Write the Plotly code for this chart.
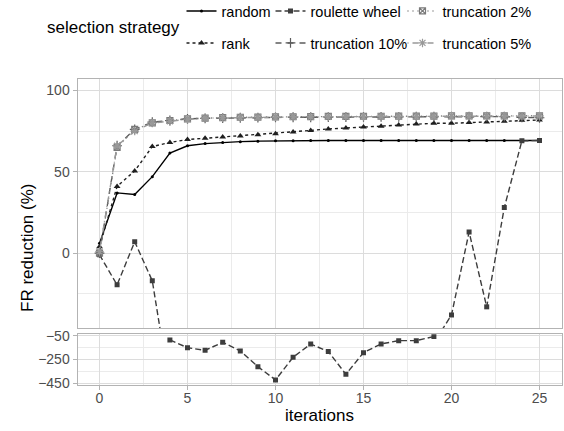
import plotly.graph_objects as go

W, H = 564, 431

iterations = list(range(26))
random_vals = [6, 37, 36, 47, 61.5, 66, 67.3, 68, 68.5, 68.8, 69, 69.1, 69.2, 69.2, 69.2, 69.2,
               69.2, 69.2, 69.2, 69.2, 69.2, 69.2, 69.2, 69.2, 69.2, 69.2]
rank_vals = [4, 41, 50.5, 65.5, 68, 69.8, 70.6, 71.4, 72, 72.8, 73.4, 74.5, 75.4, 76.3, 76.9,
             77.5, 78, 78.8, 79.4, 79.8, 79.8, 80.2, 80.6, 81, 81.6, 81.8]
roulette_vals = [-1, -19.5, 7, -17, -84, -150, -172, -104, -178, -311, -424, -231, -118, -183,
                 -376, -192, -118, -90, -90, -55, -38, 13, -33, 28, 69, 69.2]
trunc10_vals = [0, 66, 76, 80.5, 81.5, 82.5, 82.8, 83, 83.2, 83.3, 83.4, 83.5, 83.5, 83.6, 83.6,
                83.7, 83.7, 83.7, 83.8, 83.8, 83.8, 83.9, 83.9, 83.9, 83.4, 83.2]
trunc2_vals = [0, 65, 76, 80, 81.5, 82.5, 83, 83.3, 83.5, 83.6, 83.7, 83.8, 83.9, 84, 84, 84.1,
               84.1, 84.2, 84.2, 84.2, 84.3, 84.3, 84.3, 84.4, 84.4, 84.4]
trunc5_vals = [1, 66, 75, 80, 81, 82.3, 83, 83.2, 83.4, 83.5, 83.6, 83.7, 83.8, 83.8, 83.9, 83.9,
               84, 84, 84, 84.1, 84.1, 84.1, 84.2, 84.2, 84.2, 84.3]

series_names = ["random", "rank", "roulette wheel", "truncation 10%", "truncation 2%", "truncation 5%"]
series_values = [random_vals, rank_vals, roulette_vals, trunc10_vals, trunc2_vals, trunc5_vals]

x_ticks = [0, 5, 10, 15, 20, 25]
top_ticks = [0, 50, 100]
bottom_ticks = [-450, -250, -50]
BREAK = -46  # values below this are shown in the lower panel

styles = {
    "random": dict(color="#000000", dash="solid", symbol="circle", size=3, mlw=0),
    "rank": dict(color="#1f1f1f", dash="3px,3px", symbol="triangle-up", size=6, mlw=0),
    "roulette wheel": dict(color="#3d3d3d", dash="6px,3px", symbol="square", size=5, mlw=0),
    "truncation 10%": dict(color="#5c5c5c", dash="6px,6px", symbol="cross-thin-open", size=7, mlw=1.2),
    "truncation 2%": dict(color="#7a7a7a", dash="1px,4px", symbol="square-x-open", size=6, mlw=1.2),
    "truncation 5%": dict(color="#999999", dash="1px,4px,6px,4px", symbol="asterisk-open", size=7, mlw=1.2),
}

legend_pos = {
    "random": (181.5, 11),
    "rank": (181.5, 43),
    "roulette wheel": (270.5, 11),
    "truncation 10%": (270.5, 43),
    "truncation 2%": (402.5, 11),
    "truncation 5%": (402.5, 43),
}

FONT = "Liberation Sans, Arial, sans-serif"

fig = go.Figure()
legend_layouts = {}
for k, (name, vals) in enumerate(zip(series_names, series_values)):
    st = styles[name]
    lname = "legend" if k == 0 else f"legend{k + 1}"
    low_vals = [v if v < BREAK else None for v in vals]
    panels = [("top", vals)]
    if any(v is not None for v in low_vals):
        panels.append(("bottom", low_vals))
    for panel, yv in panels:
        fig.add_trace(go.Scatter(
            x=iterations, y=yv, mode="lines+markers", name=name,
            legendgroup=name, legend=lname, showlegend=(panel == "top"),
            line=dict(color=st["color"], width=1.4, dash=st["dash"]),
            marker=dict(symbol=st["symbol"], size=st["size"], color=st["color"],
                        line=dict(color=st["color"], width=st["mlw"])),
            xaxis="x2" if panel == "top" else "x",
            yaxis="y" if panel == "top" else "y2",
            connectgaps=False, hoverinfo="skip",
        ))
    px, py = legend_pos[name]
    legend_layouts[lname] = dict(
        x=px / W, y=1 - py / H, xanchor="left", yanchor="middle",
        orientation="h", bgcolor="rgba(0,0,0,0)", borderwidth=0,
        font=dict(family=FONT, size=14.5, color="#000000"), itemwidth=30,
        tracegroupgap=0,
    )

x_dom = [77.5 / W, 561.5 / W]
top_dom = [1 - 328 / H, 1 - 79 / H]
bot_dom = [1 - 385 / H, 1 - 334.3 / H]

grid_major = "#dcdcdc"
grid_minor = "#ebebeb"
border = "#b3b3b3"
tickfont = dict(family=FONT, size=14, color="#4d4d4d")

common_x = dict(range=[-1.25, 26.25], domain=x_dom, showgrid=True, gridcolor=grid_major,
                gridwidth=1, zeroline=False, showline=True, mirror=True, linecolor=border,
                linewidth=1, tickmode="array", tickvals=x_ticks,
                minor=dict(tickvals=[2.5, 7.5, 12.5, 17.5, 22.5], showgrid=True,
                           gridcolor=grid_minor, gridwidth=1, ticks=""),
                automargin=False)

fig.update_layout(
    width=W, height=H, margin=dict(l=0, r=0, t=0, b=0, autoexpand=False),
    paper_bgcolor="white", plot_bgcolor="white", template="none",
    font=dict(family=FONT, color="#000000"),
    xaxis=dict(**common_x, anchor="y2", ticks="outside", ticklen=4, tickcolor=border,
               tickfont=tickfont, showticklabels=True, ticklabelstandoff=-4),
    xaxis2=dict(**common_x, anchor="y", matches="x", ticks="", showticklabels=False),
    yaxis=dict(domain=top_dom, range=[-46, 107], anchor="x2", showgrid=True,
               gridcolor=grid_major, gridwidth=1, zeroline=False, showline=True, mirror=True,
               linecolor=border, linewidth=1, tickmode="array", tickvals=top_ticks,
               ticks="outside", ticklen=4, tickcolor=border, tickfont=tickfont,
               minor=dict(tickvals=[-25, 25, 75], showgrid=True, gridcolor=grid_minor,
                          gridwidth=1, ticks=""),
               automargin=False),
    yaxis2=dict(domain=bot_dom, range=[-467, -36], anchor="x", showgrid=True,
                gridcolor=grid_major, gridwidth=1, zeroline=False, showline=True, mirror=True,
                linecolor=border, linewidth=1, tickmode="array", tickvals=bottom_ticks,
                ticks="outside", ticklen=4, tickcolor=border, tickfont=tickfont,
                minor=dict(tickvals=[-350, -150], showgrid=True, gridcolor=grid_minor,
                           gridwidth=1, ticks=""),
                automargin=False),
    annotations=[
        dict(text="selection strategy", x=45 / W, y=1 - 28 / H, xref="paper", yref="paper",
             xanchor="left", yanchor="middle", showarrow=False,
             font=dict(family=FONT, size=17, color="#000000")),
        dict(text="iterations", x=319.5 / W, y=1 - 415 / H, xref="paper", yref="paper",
             xanchor="center", yanchor="middle", showarrow=False,
             font=dict(family=FONT, size=17, color="#000000")),
        dict(text="FR reduction (%)", x=27 / W, y=1 - 248 / H, xref="paper", yref="paper",
             xanchor="center", yanchor="middle", showarrow=False, textangle=-90,
             font=dict(family=FONT, size=17, color="#000000")),
    ],
    showlegend=True,
    **legend_layouts,
)

fig.write_html("out.html", config={"displayModeBar": False},
               post_script="document.body.style.margin='0';")
